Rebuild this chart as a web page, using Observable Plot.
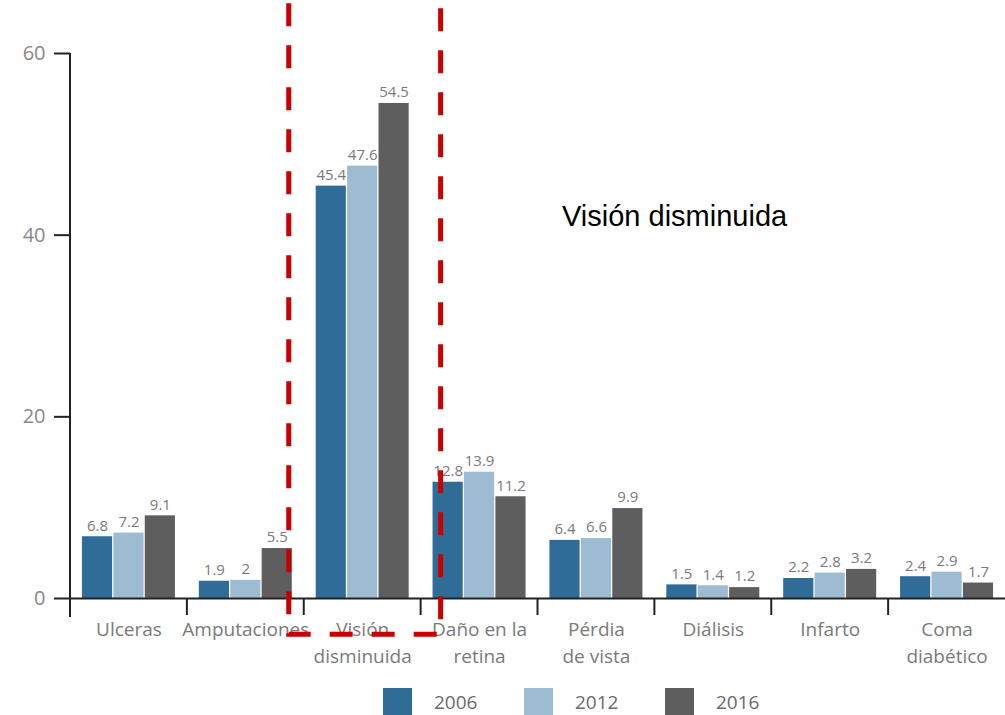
<!DOCTYPE html>
<html><head><meta charset="utf-8">
<script src="https://cdn.jsdelivr.net/npm/d3@7"></script>
<script src="https://cdn.jsdelivr.net/npm/@observablehq/plot@0.6"></script>
<style>
body{margin:0;background:#fff;font-family:"Open Sans",sans-serif;}
#chart svg{display:block;overflow:visible;}
#legend{display:flex;align-items:flex-start;height:43px;padding-left:383px;padding-top:16px;box-sizing:border-box;color:#6a6a6a;font-size:19px;}
.item{display:flex;align-items:center;width:141px;}
.sw{width:29px;height:28px;margin-right:22px;}
.item span{line-height:28px;}
</style></head><body>
<div id="chart"></div>
<div id="legend"></div>
<script>
const categories = ["Ulceras","Amputaciones","Visión disminuida","Daño en la retina","Pérdia de vista","Diálisis","Infarto","Coma diabético"];
const categoryLabels = ["Ulceras","Amputaciones","Visión\ndisminuida","Daño en la\nretina","Pérdia\nde vista","Diálisis","Infarto","Coma\ndiabético"];
const years = ["2006","2012","2016"];
const values2006 = [6.8,1.9,45.4,12.8,6.4,1.5,2.2,2.4];
const values2012 = [7.2,2.0,47.6,13.9,6.6,1.4,2.8,2.9];
const values2016 = [9.1,5.5,54.5,11.2,9.9,1.2,3.2,1.7];
const yTicks = [0,20,40,60];
const colors = ["#2f6c98","#9dbbd1","#5e5e5e"];
const highlight = "Visión disminuida";
const annotation = "Visión disminuida";
const annotationCategory = "Pérdia de vista";
const annotationValue = 42.05;

const series = [values2006, values2012, values2016];
const data = categories.flatMap((c,i)=>series.map((arr,j)=>({category:c, year:years[j], value:arr[i]})));

const plot = Plot.plot({
  width:1005, height:672, marginLeft:70, marginRight:0, marginTop:53, marginBottom:74,
  style:{fontFamily:"'Open Sans', sans-serif", background:"#fff"},
  fx:{domain:categories, padding:0, round:false, label:null},
  x:{domain:years, paddingInner:0.04, paddingOuter:0.38, round:false, axis:null},
  y:{domain:[0,60], label:null},
  color:{domain:years, range:colors},
  marks:[
    Plot.axisY({ticks:yTicks, tickSize:16, tickPadding:9, fontSize:20, fill:"#888", stroke:"#222", strokeWidth:2, label:null}),
    Plot.axisFx({anchor:"bottom", tickSize:0, tickPadding:18, tickFormat:d=>categoryLabels[categories.indexOf(d)], fontSize:19, lineHeight:1.42, fill:"#7a7a7a", label:null}),
    Plot.barY(data, {fx:"category", x:"year", y:"value", fill:"year"}),
    Plot.text(data, {fx:"category", x:"year", y:"value", text:d=>String(d.value), dy:-11, fill:"#7a7a7a", fontSize:15}),
    Plot.ruleY([0], {stroke:"#222", strokeWidth:2}),
    Plot.rect([highlight], {fx:d=>d, y1:()=>-4, y2:()=>70, insetLeft:-15, insetRight:-20, fill:"none", stroke:"#c80000", strokeWidth:5, strokeDasharray:"23,19", strokeDashoffset:12}),
    Plot.text([annotation], {fx:()=>annotationCategory, x:()=>years[0], y:()=>annotationValue, text:d=>d, textAnchor:"start", dx:-3, fontSize:29, fill:"#000", fontFamily:"'Liberation Sans', Arial, sans-serif"})
  ]
});
document.getElementById("chart").appendChild(plot);

const svg = d3.select(plot);
const fx = plot.scale("fx"), y = plot.scale("y");
const y0 = y.apply(0), yTop = y.apply(60);
const g = svg.append("g").attr("stroke","#222").attr("stroke-width",2);
g.append("line").attr("x1",fx.apply(categories[0])).attr("x2",fx.apply(categories[0])).attr("y1",yTop).attr("y2",y0+19);
categories.forEach(c=>{
  const xx = fx.apply(c);
  g.append("line").attr("x1",xx).attr("x2",xx).attr("y1",y0).attr("y2",y0+17);
});

const legend = d3.select("#legend");
years.forEach((yr,i)=>{
  const it = legend.append("div").attr("class","item");
  it.append("div").attr("class","sw").style("background",colors[i]);
  it.append("span").text(yr);
});
</script>
</body></html>
